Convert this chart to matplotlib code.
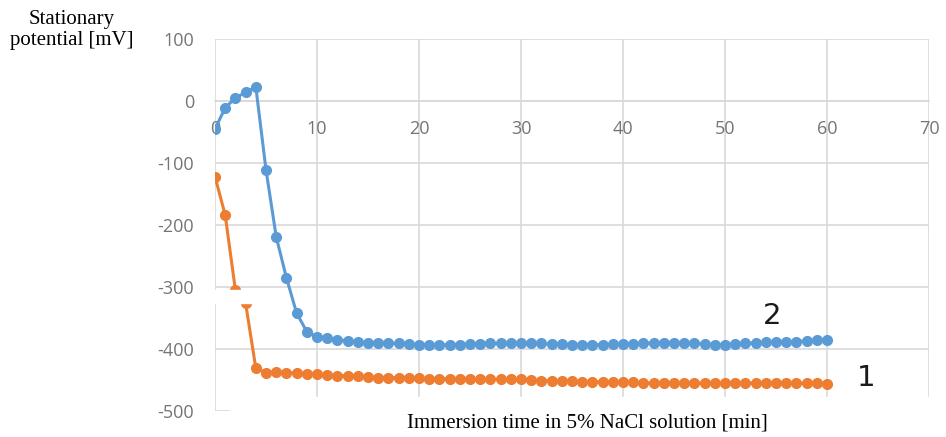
import matplotlib
matplotlib.use("Agg")
import matplotlib.pyplot as plt
from matplotlib.patches import Rectangle

plt.rcParams["axes.unicode_minus"] = False

# immersion time [min], one reading per minute
minutes = list(range(0, 61))

# curve 2 (blue)
potential_2 = [-45, -11, 5, 14, 23, -111, -219, -285, -342, -372,
               -380, -383, -385, -387, -389, -390, -390, -391, -391, -392,
               -393, -393, -393, -393, -393, -392, -392, -391, -391, -391,
               -391, -391, -391, -392, -392, -393, -393, -393, -393, -392,
               -392, -392, -391, -390, -390, -390, -390, -391, -392, -394,
               -393, -392, -391, -390, -389, -389, -388, -388, -387, -386,
               -386]

# curve 1 (orange)
potential_1 = [-122, -184, -305, -326, -431, -438, -437, -438, -439, -440,
               -441, -442, -443, -443, -444, -445, -446, -446, -446, -446,
               -447, -448, -448, -448, -448, -449, -449, -449, -449, -449,
               -449, -450, -451, -451, -452, -452, -453, -453, -453, -453,
               -454, -454, -455, -455, -455, -455, -455, -455, -455, -455,
               -455, -455, -455, -455, -455, -455, -455, -455, -455, -455,
               -456]

x_ticks = [0, 10, 20, 30, 40, 50, 60, 70]
y_ticks = [100, 0, -100, -200, -300, -400, -500]

BLUE = "#5B9BD5"
ORANGE = "#ED7D31"
GRID = "#d9d9d9"
TICK = "#757575"

fig = plt.figure(figsize=(9.46, 4.37), dpi=100)
ax = fig.add_axes([215 / 946, 1 - 411 / 437, (929 - 215) / 946, (411 - 39) / 437])

ax.plot(minutes, potential_2, "-o", color=BLUE, lw=2.2, ms=7, zorder=3)
ax.plot(minutes, potential_1, "-o", color=ORANGE, lw=2.2, ms=7, zorder=3)

ax.set_xlim(0, 70)
ax.set_ylim(-500, 100)
ax.set_xticks(x_ticks)
ax.set_yticks(y_ticks)
ax.grid(True, color=GRID, lw=1.2)
ax.set_axisbelow(True)

for side in ["top", "right", "left"]:
    ax.spines[side].set_visible(False)
ax.spines["bottom"].set_position(("data", 0))
ax.spines["bottom"].set_color(GRID)
ax.spines["bottom"].set_linewidth(1.2)

for lab in ax.get_xticklabels() + ax.get_yticklabels():
    lab.set_family("Open Sans")
ax.tick_params(axis="x", length=0, pad=14, labelsize=13, labelcolor=TICK)
ax.tick_params(axis="y", length=0, pad=15, labelsize=13, labelcolor=TICK)

# curve numbers
ax.text(54.6, -347, "2", fontsize=21, color="#1a1a1a", ha="center", va="center")
ax.text(63.8, -447, "1", fontsize=21, color="#1a1a1a", ha="center", va="center")

# white patches present in the source picture
fig.add_artist(Rectangle((230 / 946, 0), 1 - 230 / 946, 40 / 437,
                         transform=fig.transFigure, color="white", zorder=5))
fig.add_artist(Rectangle((213 / 946, 1 - 303 / 437), 74 / 946, 13 / 437,
                         transform=fig.transFigure, color="white", zorder=5))

fig.text(72 / 946, 1 - 30 / 437, "Stationary\npotential [mV]", fontsize=15,
         family="Liberation Serif", ha="center", va="center", linespacing=1.1)
fig.text(587 / 946, 1 - 423 / 437, "Immersion time in 5% NaCl solution [min]",
         fontsize=15, family="Liberation Serif", ha="center", va="center", zorder=6)

fig.savefig("out.png", dpi=100)
